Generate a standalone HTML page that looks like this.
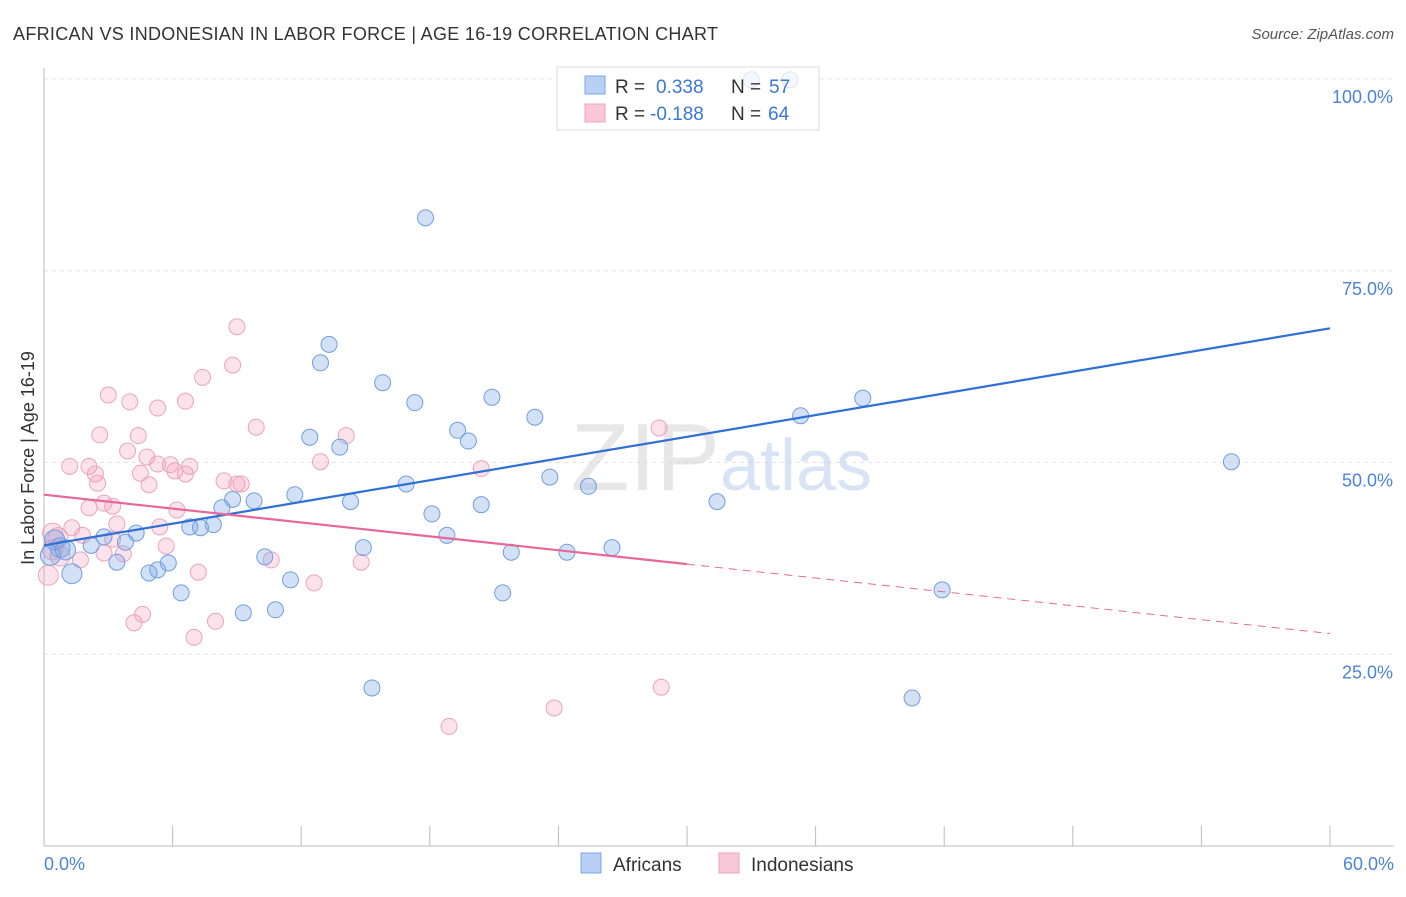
<!DOCTYPE html>
<html><head><meta charset="utf-8"><style>
body{margin:0;background:#fff;font-family:"Liberation Sans",sans-serif;}
svg text{font-family:"Liberation Sans",sans-serif;}
</style></head><body>
<svg id="chart" width="1406" height="892">
<text x="13" y="40" font-size="18" fill="#333" textLength="705">AFRICAN VS INDONESIAN IN LABOR FORCE | AGE 16-19 CORRELATION CHART</text>
<text x="1394" y="39" font-size="15" fill="#555" font-style="italic" text-anchor="end">Source: ZipAtlas.com</text>
<text x="0" y="0" transform="translate(34,458) rotate(-90)" font-size="18" fill="#333" text-anchor="middle">In Labor Force | Age 16-19</text>
<g id="grid"></g>
<text x="720" y="490" font-size="96" fill="#ccc" opacity="0.45" text-anchor="end" font-family="Liberation Serif">ZIP</text>
<text x="720" y="490" font-size="72" fill="#aac4ea" opacity="0.45">atlas</text>
<g id="pts"></g>
<g id="lines"></g>
<g>
<rect x="557" y="67" width="262" height="63" fill="#fff" fill-opacity="0.75" stroke="#ddd"/>
<rect x="585" y="76" width="20" height="18" fill="#b8d0f4" stroke="#7aa6e6"/>
<rect x="585" y="104" width="20" height="18" fill="#f9c8d8" stroke="#eea0ba"/>
<text x="615" y="93" font-size="19" fill="#333">R =</text><text x="656" y="93" font-size="19" fill="#3a78d8">0.338</text>
<text x="731" y="93" font-size="19" fill="#333">N =</text><text x="769" y="93" font-size="19" fill="#3a78d8">57</text>
<text x="615" y="120" font-size="19" fill="#333">R =</text><text x="650" y="120" font-size="19" fill="#3a78d8">-0.188</text>
<text x="731" y="120" font-size="19" fill="#333">N =</text><text x="768" y="120" font-size="19" fill="#3a78d8">64</text>
</g>
<g>
<rect x="581" y="853" width="20" height="20" fill="#b8d0f4" stroke="#7aa6e6"/>
<text x="613" y="871" font-size="19" fill="#333">Africans</text>
<rect x="719" y="853" width="20" height="20" fill="#f9c8d8" stroke="#eea0ba"/>
<text x="751" y="871" font-size="19" fill="#333">Indonesians</text>
</g>
</svg>
<script>
const yTicks=[25,50,75,100];
const yTickLabels=["25.0%","50.0%","75.0%","100.0%"];
const xTicks=[0,6,12,18,24,30,36,42,48,54,60];
const africansX=[17.8,33.0,34.8,13.3,12.9,15.8,17.3,20.9,22.9,35.3,38.2,19.3,19.8,12.4,13.8,23.6,25.4,16.9,55.4,8.8,9.8,11.7,14.3,20.4,18.1,31.4,8.3,7.9,7.3,6.8,18.8,4.3,2.8,3.8,2.2,3.4,14.9,21.8,24.4,26.5,10.3,5.8,5.3,4.9,1.3,0.75,0.5,6.4,11.5,9.3,10.8,21.4,41.9,15.3,40.5,0.3,1.0];
const africansY=[81.9,99.9,99.9,65.4,63.0,60.4,57.8,58.5,55.9,56.1,58.4,54.2,52.8,53.3,52.0,48.1,46.9,47.2,50.1,45.2,45.0,45.8,44.9,44.5,43.3,44.9,44.1,41.9,41.5,41.6,40.5,40.8,40.3,39.6,39.2,37.0,38.9,38.3,38.3,38.9,37.7,36.9,36.0,35.6,35.5,38.9,39.9,33.0,34.7,30.4,30.8,33.0,33.4,20.6,19.3,37.9,38.6];
const indonesiansX=[9.0,8.8,7.4,3.0,4.0,6.6,5.3,9.9,2.6,4.4,14.1,28.7,3.9,4.8,5.3,5.9,6.8,1.2,2.1,12.9,20.4,2.4,4.5,6.1,6.6,4.9,8.4,9.0,9.2,2.5,3.2,2.1,6.2,2.8,3.4,1.3,5.4,1.8,3.2,0.65,0.4,5.7,3.7,2.8,1.7,10.6,14.8,12.6,7.2,4.6,4.2,8.0,7.0,18.9,23.8,28.8,0.2,0.4,0.75];
const indonesiansY=[67.7,62.7,61.1,58.8,57.9,58.0,57.1,54.6,53.6,53.5,53.5,54.5,51.5,50.7,49.8,49.7,49.5,49.5,49.5,50.1,49.2,48.5,48.6,48.9,48.5,47.1,47.6,47.2,47.2,47.3,44.3,44.1,43.8,44.7,42.0,41.5,41.6,40.5,40.0,40.2,40.8,39.1,38.1,38.2,37.3,37.3,37.0,34.3,35.7,30.2,29.1,29.3,27.2,15.6,18.0,20.7,35.3,38.6,37.8];
const africanTrend=[39.2,67.5];
const indoTrend=[45.8,27.7];
const NS='http://www.w3.org/2000/svg';
const X0=44,X1=1330,Y0=846,Y100=79;
const sx=v=>X0+(v/60)*(X1-X0);
const sy=v=>Y0-(v/100)*(Y0-Y100);
function mk(tag,attrs,parent){const e=document.createElementNS(NS,tag);for(const k in attrs)e.setAttribute(k,attrs[k]);parent.appendChild(e);return e;}
const grid=document.getElementById('grid');
yTicks.forEach((t,i)=>{
 const l=mk('line',{x1:X0,x2:1394,y1:sy(t),y2:sy(t),stroke:'#e4e4e4','stroke-dasharray':'4,4'},grid);
 
 
 const tx=mk('text',{x:1393,y:sy(t)+24,'font-size':18,fill:'#4a84d8','text-anchor':'end'},grid);
 tx.textContent=yTickLabels[i];
 
 
});
const ax=mk('line',{x1:X0,x2:X0,y1:68,y2:Y0,stroke:'#bbb'},grid);


const bx=mk('line',{x1:X0,x2:1394,y1:Y0,y2:Y0,stroke:'#bbb'},grid);


xTicks.forEach(t=>{
 const l=mk('line',{x1:sx(t),x2:sx(t),y1:826,y2:Y0,stroke:'#bbb'},grid);
 
 
});
const xl0=mk('text',{x:44,y:870,'font-size':18,fill:'#4a84d8'},grid);xl0.textContent='0.0%';


const xl1=mk('text',{x:1394,y:870,'font-size':18,fill:'#4a84d8','text-anchor':'end'},grid);xl1.textContent='60.0%';


const pts=document.getElementById('pts');
indonesiansX.forEach((x,i)=>{
 const c=mk('circle',{cx:sx(x),cy:sy(indonesiansY[i]),r:x<1?10:8,fill:'rgba(244,160,188,0.3)',stroke:'#eba3bc','stroke-width':1},pts);
 
 
});
africansX.forEach((x,i)=>{
 const c=mk('circle',{cx:sx(x),cy:sy(africansY[i]),r:x<1.5?10:8,fill:'rgba(130,170,230,0.35)',stroke:'#6f9ee0','stroke-width':1},pts);
 
 
});
const lines=document.getElementById('lines');
const bl=mk('line',{x1:sx(0),y1:sy(africanTrend[0]),x2:sx(60),y2:sy(africanTrend[1]),stroke:'#2f6fd6','stroke-width':2.2},lines);


const pm=indoTrend[0]+(indoTrend[1]-indoTrend[0])*0.5;
const pl=mk('line',{x1:sx(0),y1:sy(indoTrend[0]),x2:sx(30),y2:sy(pm),stroke:'#e8679a','stroke-width':2.2},lines);


const pd=mk('line',{x1:sx(30),y1:sy(pm),x2:sx(60),y2:sy(indoTrend[1]),stroke:'#e8679a','stroke-width':1,'stroke-dasharray':'8,6'},lines);


</script>
</body></html>
